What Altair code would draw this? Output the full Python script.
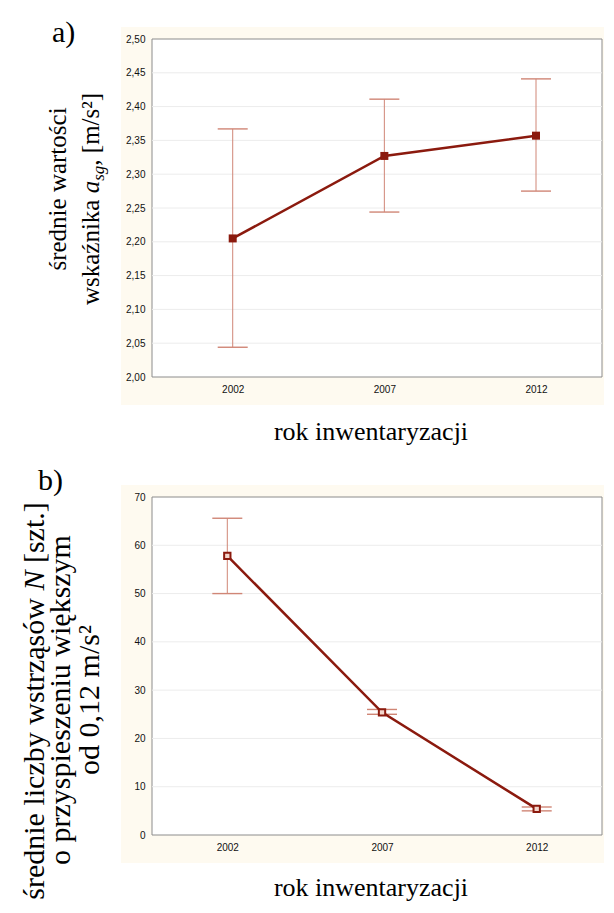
import altair as alt
import pandas as pd

# ---- data ----
years = [2002, 2007, 2012]

a_mean = [2.205, 2.327, 2.357]
a_low = [2.044, 2.244, 2.275]
a_high = [2.367, 2.411, 2.441]
a_ticks = [2.00, 2.05, 2.10, 2.15, 2.20, 2.25, 2.30, 2.35, 2.40, 2.45, 2.50]

b_mean = [57.8, 25.4, 5.4]
b_low = [50.0, 25.0, 5.0]
b_high = [65.6, 26.0, 5.8]
b_ticks = [0, 10, 20, 30, 40, 50, 60, 70]

x_title = "rok inwentaryzacji"

# ---- styling ----
DARK = "#8b1a0e"
ERR = "#d08676"
CREAM = "#fefaf0"
BORDER = "#8c8c8c"
SERIF = "Liberation Serif"
W, H = 450, 338

dummy = pd.DataFrame({"k": [0]})


def rect(x1, x2, y1, y2, fill, stroke=None):
    kw = dict(fill=fill, strokeWidth=0)
    if stroke:
        kw = dict(fill=fill, stroke=stroke, strokeWidth=1)
    return alt.Chart(dummy).mark_rect(**kw).encode(
        x=alt.value(x1), x2=alt.value(x2), y=alt.value(y1), y2=alt.value(y2)
    )


def txt(s, x, y, size, angle=0, align="left", style="normal"):
    return alt.Chart(dummy).mark_text(
        text=s, font=SERIF, fontSize=size, angle=angle, align=align,
        baseline="alphabetic", fontStyle=style, color="black"
    ).encode(x=alt.value(x), y=alt.value(y))


def rotated_run(pieces, x, center):
    """pieces: (text, size, em_width, style, dx) laid out bottom-to-top."""
    total = sum(p[1] * p[2] for p in pieces)
    pos = center + total / 2
    out = []
    for s, size, em, style, dx in pieces:
        out.append(txt(s, x + dx, pos, size, angle=270, style=style))
        pos -= size * em
    return out


def panel(mean, low, high, ydom, yticks, label_expr, xdom, hollow):
    df = pd.DataFrame({"rok": years, "srednia": mean, "dol": low, "gora": high})
    xs = alt.Scale(domain=xdom, nice=False, zero=False)
    ys = alt.Scale(domain=ydom, nice=False, zero=False)
    xa = alt.Axis(values=years, format="d", title=None, grid=False, ticks=False,
                  domain=False, labelPadding=7, zindex=1)
    ya = alt.Axis(values=yticks, labelExpr=label_expr, title=None, grid=False,
                  ticks=False, domain=False, labelPadding=7, zindex=1)

    def X():
        return alt.X("rok:Q", scale=xs, axis=xa)

    def Y(f):
        return alt.Y(f + ":Q", scale=ys, axis=ya)

    grid = alt.Chart(pd.DataFrame({"t": yticks[1:-1]})).mark_rule(
        color="#ececec", strokeWidth=1).encode(y=Y("t"))
    base = alt.Chart(df)
    rule = base.mark_rule(color=ERR, strokeWidth=1).encode(x=X(), y=Y("dol"), y2="gora:Q")
    cap_hi = base.mark_tick(orient="horizontal", size=30, thickness=1.4, color=ERR,
                            opacity=1).encode(x=X(), y=Y("gora"))
    cap_lo = base.mark_tick(orient="horizontal", size=30, thickness=1.4, color=ERR,
                            opacity=1).encode(x=X(), y=Y("dol"))
    line = base.mark_line(color=DARK, strokeWidth=2.5).encode(x=X(), y=Y("srednia"))
    if hollow:
        pts = base.mark_point(shape="square", filled=False, size=40, stroke=DARK,
                              strokeWidth=2, fill="#f3d6cc", fillOpacity=1,
                              opacity=1).encode(x=X(), y=Y("srednia"))
    else:
        pts = base.mark_point(shape="square", filled=True, size=64, color=DARK,
                              opacity=1).encode(x=X(), y=Y("srednia"))
    return [
        rect(-31, W + 2, -12, 366, CREAM),
        rect(0, W, 0, H, "white", BORDER),
        grid, rule, cap_hi, cap_lo, line, pts,
    ]


comma2 = "replace(format(datum.value, '.2f'), '.', ',')"

# ---- panel a ----
pa_layers = [rect(-144, -143, -31, -30, "white")] + panel(
    a_mean, a_low, a_high, [2.0, 2.5], a_ticks, comma2,
    [1999.339, 2014.176], hollow=False) + [
    txt("a)", -100, 3, 30),
    txt("średnie wartości", -86, 150, 25, angle=270, align="center"),
] + rotated_run([
    ("wskaźnika", 25, 4.471, "normal", 0),
    ("a", 25, 0.5, "italic", 0),
    ("sg", 17, 0.889, "italic", 5),
    (", [m/s²]", 25, 2.911, "normal", 0),
], -53, 160) + [
    txt(x_title, 219, 401, 26, align="center"),
]
pa = alt.layer(*pa_layers).properties(width=W, height=H)

# ---- panel b ----
pb_layers = [rect(-144, -143, 0, 1, "white")] + panel(
    b_mean, b_low, b_high, [0, 70], b_ticks, "format(datum.value, 'd')",
    [1999.566, 2014.11], hollow=True) + [
    txt("b)", -114, -7, 30),
] + rotated_run([
    ("średnie liczby wstrząsów", 30, 10.303, "normal", 0),
    ("N", 30, 0.917, "italic", 0),
    ("[szt.]", 30, 2.027, "normal", 0),
], -108, 204) + [
    txt("o przyspieszeniu większym", -82, 203, 30, angle=270, align="center"),
    txt("od 0,12 m/s²", -53, 203, 30, angle=270, align="center"),
    txt(x_title, 219, 399, 26, align="center"),
]
pb = alt.layer(*pb_layers).properties(width=W, height=H)

chart = (
    alt.vconcat(pa, pb, spacing=120, bounds="flush")
    .properties(background="white", padding=0)
    .configure_view(fill="white", stroke=None)
    .configure_axis(labelFont="Liberation Sans", labelFontSize=10, labelColor="#111111")
)

chart.save("out.html", embed_options={"renderer": "svg", "actions": False})
